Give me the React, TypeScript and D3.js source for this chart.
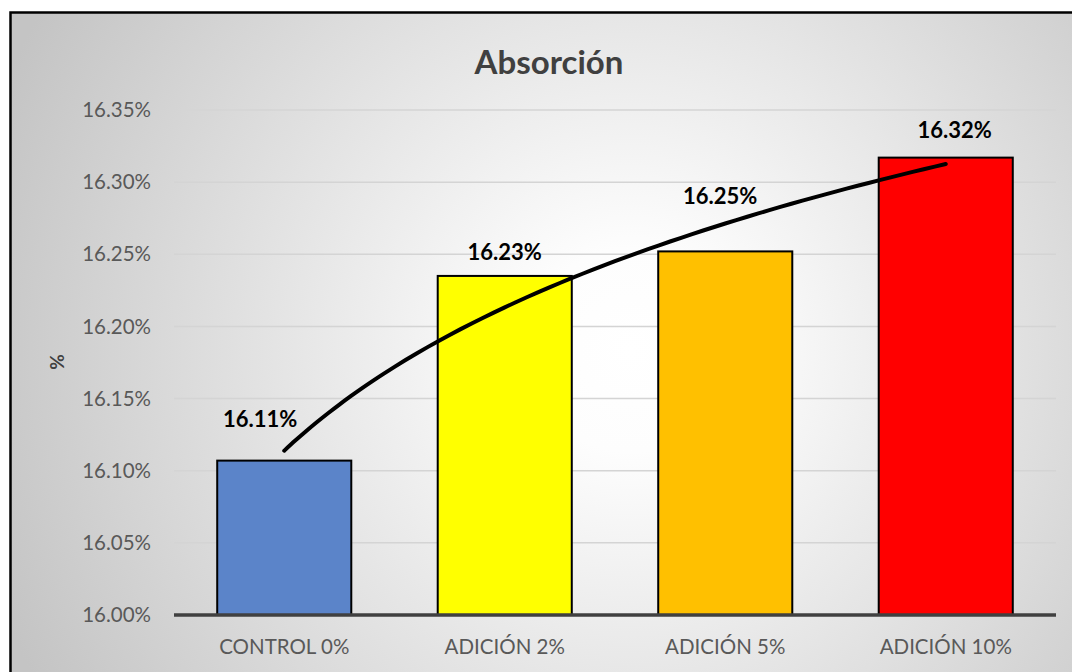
import React from "react";
import * as d3 from "d3";

// Absorción por tipo de mezcla (%)
const categories = ["CONTROL 0%", "ADICIÓN 2%", "ADICIÓN 5%", "ADICIÓN 10%"];
const values = [16.107, 16.235, 16.252, 16.317];
const barColors = ["#5b84c9", "#ffff00", "#ffc000", "#ff0000"];
const valueLabels = ["16.11%", "16.23%", "16.25%", "16.32%"];
const yTicks = [16.0, 16.05, 16.1, 16.15, 16.2, 16.25, 16.3, 16.35];

// label nudges (px) relative to the bar's top centre
const labelShift: [number, number][] = [
  [-24, -41],
  [0, -24],
  [-5, -55],
  [9, -27],
];

const W = 1072;
const H = 672;
const margin = { left: 174, right: 16, top: 110, bottom: 57 };
const FONT = "Lato, 'Open Sans', sans-serif";

export default function App() {
  const x = d3
    .scaleBand<string>()
    .domain(categories)
    .range([margin.left, W - margin.right])
    .paddingInner(0.392)
    .paddingOuter(0.196);
  const y = d3
    .scaleLinear()
    .domain([16.0, 16.35])
    .range([H - margin.bottom, margin.top]);

  // logarithmic trendline y = a + b ln(x), x = 1..n, least squares
  const lx = values.map((_, i) => Math.log(i + 1));
  const mx = d3.mean(lx)!;
  const my = d3.mean(values)!;
  const b =
    d3.sum(lx.map((v, i) => (v - mx) * (values[i] - my))) /
    d3.sum(lx.map((v) => (v - mx) * (v - mx)));
  const a = my - b * mx;
  const pts = d3.range(1, 4.0001, 0.05).map((t) => {
    const px = x(categories[0])! + x.bandwidth() / 2 + (t - 1) * x.step();
    return [px, y(a + b * Math.log(t))] as [number, number];
  });
  const trend = d3.line().curve(d3.curveMonotoneX)(pts) || "";

  const baseY = y(16.0);

  return (
    <svg
      width={W}
      height={H}
      style={{ position: "absolute", left: 0, top: 0, background: "#fff" }}
    >
      <defs>
        <radialGradient
          id="bg"
          gradientUnits="userSpaceOnUse"
          cx={630}
          cy={350}
          r={680}
        >
          <stop offset="0" stopColor="#ffffff" />
          <stop offset="0.15" stopColor="#fdfdfd" />
          <stop offset="1" stopColor="#c4c4c4" />
        </radialGradient>
      </defs>
      <rect
        x={10.5}
        y={12.5}
        width={W + 20}
        height={H + 20}
        fill="url(#bg)"
        stroke="#000"
        strokeWidth={2.5}
      />
      <text
        x={549}
        y={74}
        textAnchor="middle"
        fontFamily={FONT}
        fontWeight={700}
        fontSize={33}
        fill="#404040"
      >
        Absorción
      </text>

      {/* gridlines and y tick labels */}
      {yTicks.map((t) => (
        <g key={t}>
          {t > 16.0 && (
            <line
              x1={margin.left}
              x2={W - margin.right}
              y1={y(t)}
              y2={y(t)}
              stroke="#d4d4d4"
              strokeWidth={1.5}
            />
          )}
          <text
            x={151}
            y={y(t)}
            dy="0.35em"
            textAnchor="end"
            fontFamily={FONT}
            fontSize={20.5}
            fill="#595959"
          >
            {t.toFixed(2)}%
          </text>
        </g>
      ))}

      <text
        transform={`translate(57,362) rotate(-90)`}
        textAnchor="middle"
        dy="0.35em"
        fontFamily={FONT}
        fontWeight={700}
        fontSize={19}
        fill="#404040"
      >
        %
      </text>

      {/* bars */}
      {categories.map((c, i) => (
        <rect
          key={c}
          x={x(c)!}
          y={y(values[i])}
          width={x.bandwidth()}
          height={baseY - y(values[i])}
          fill={barColors[i]}
          stroke="#000"
          strokeWidth={2}
        />
      ))}

      <line
        x1={margin.left}
        x2={W - margin.right}
        y1={baseY}
        y2={baseY}
        stroke="#404040"
        strokeWidth={3.5}
      />

      {/* category labels */}
      {categories.map((c) => (
        <text
          key={c}
          x={x(c)! + x.bandwidth() / 2}
          y={654}
          textAnchor="middle"
          fontFamily={FONT}
          fontSize={20.5}
          fill="#595959"
        >
          {c}
        </text>
      ))}

      <path d={trend} fill="none" stroke="#000" strokeWidth={4} strokeLinecap="round" />

      {/* value labels */}
      {categories.map((c, i) => (
        <text
          key={c}
          x={x(c)! + x.bandwidth() / 2 + labelShift[i][0]}
          y={y(values[i]) + labelShift[i][1]}
          dy="0.35em"
          textAnchor="middle"
          fontFamily={FONT}
          fontWeight={700}
          fontSize={22}
          fill="#000"
        >
          {valueLabels[i]}
        </text>
      ))}
    </svg>
  );
}
